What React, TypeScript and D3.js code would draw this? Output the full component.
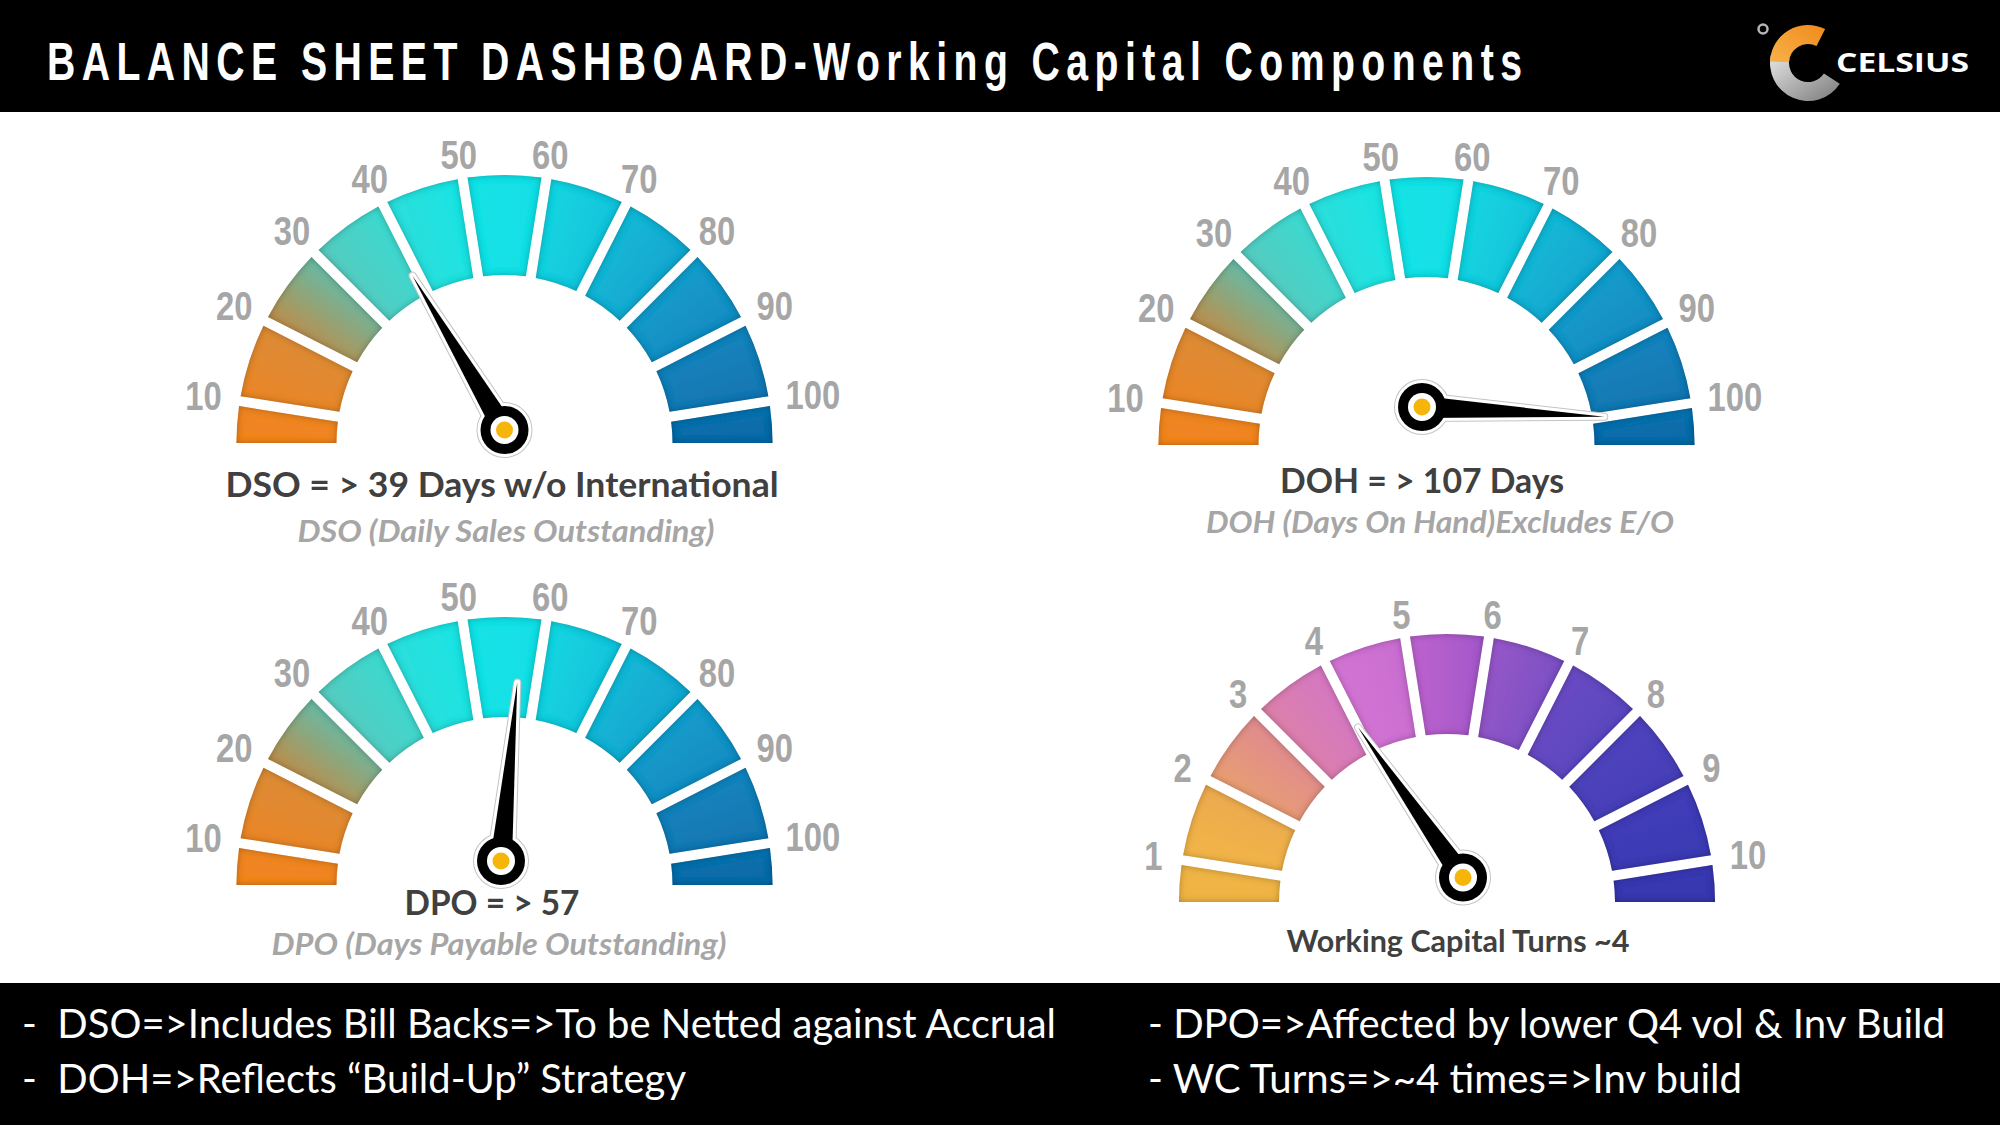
import React from 'react';
import * as d3 from 'd3';

const W = 2000;
const H = 1125;

// ---- data ----
const headerTitle = 'BALANCE SHEET DASHBOARD-Working Capital Components';
const brandName = 'CELSIUS';

const dayTicks = [10, 20, 30, 40, 50, 60, 70, 80, 90, 100];
const turnTicks = [1, 2, 3, 4, 5, 6, 7, 8, 9, 10];

const gaugeValues = [39, 107, 57, 4];
const gaugeTitles = [
    'DSO = > 39 Days w/o International',
    'DOH = > 107 Days',
    'DPO = > 57',
    'Working Capital Turns ~4'
];
const gaugeSubtitles = [
    'DSO (Daily Sales Outstanding)',
    'DOH (Days On Hand)Excludes E/O',
    'DPO (Days Payable Outstanding)',
    ''
];

// segment colours, start -> end along the arc (left to right)
const dayColors: [string, string][] = [
    ['#f2841e', '#ee8526'],
    ['#ea8628', '#dc8b36'],
    ['#b98f4e', '#6ab9a2'],
    ['#56cbbf', '#3cd9d0'],
    ['#2cdedb', '#1be4e3'],
    ['#14e3e6', '#13dfe6'],
    ['#17d5e1', '#18c3db'],
    ['#18b8d6', '#16a6cf'],
    ['#159ccb', '#148cc2'],
    ['#1483bd', '#1276b2'],
    ['#1270ae', '#106aa7']
];
const turnColors: [string, string][] = [
    ['#eeb443', '#efb445'],
    ['#f2b547', '#ecaa50'],
    ['#e89d72', '#e08b8f'],
    ['#dc80aa', '#d577c2'],
    ['#d274d2', '#c96dd2'],
    ['#bc62cf', '#a458c9'],
    ['#9656c8', '#7c50c4'],
    ['#6a4bc3', '#5946bf'],
    ['#4f43bc', '#4640b8'],
    ['#413cb7', '#3b3ab4'],
    ['#3a3ab3', '#3737ae']
];

const notesLeft = [
    '-  DSO=>Includes Bill Backs=>To be Netted against Accrual',
    '-  DOH=>Reflects \u201CBuild-Up\u201D Strategy'
];
const notesRight = [
    '- DPO=>Affected by lower Q4 vol & Inv Build',
    '- WC Turns=>~4 times=>Inv build'
];

// ---- layout ----
const R_OUT = 268;
const R_IN = 168;
const GAP = 10;

interface GaugeLayout {
    cx: number;
    cy: number;
    pivot: [number, number];
    needleR: number;
    titleY: number;
    titleW: number;
    titleSize: number;
    subY: number;
    subW: number;
    titleX: number;
    subX: number;
}

const layouts: GaugeLayout[] = [
    { cx: 504.5, cy: 443, pivot: [0, -13], needleR: 191, titleX: 502, titleY: 497, titleW: 553, titleSize: 34, subX: 506, subY: 542, subW: 417 },
    { cx: 1426.5, cy: 445, pivot: [-4.5, -38], needleR: 180, titleX: 1422, titleY: 493, titleW: 284, titleSize: 34, subX: 1440, subY: 533, subW: 468 },
    { cx: 504.5, cy: 885, pivot: [-3.5, -24], needleR: 203, titleX: 492, titleY: 915, titleW: 175, titleSize: 34, subX: 499, subY: 955, subW: 455 },
    { cx: 1447, cy: 902, pivot: [16, -24.5], needleR: 196, titleX: 1458, titleY: 952, titleW: 343, titleSize: 31, subX: 0, subY: 0, subW: 0 }
];

// narrow look: Arial-metric bold squeezed horizontally
const narrowFont = '"Liberation Sans", Arial, sans-serif';
const textFont = 'Lato, "Open Sans", sans-serif';
const LABEL_SQUEEZE = 0.8;
const HEADER_SQUEEZE = 0.74;

interface GaugeProps {
    idx: number;
    ticks: number[];
    colors: [string, string][];
    value: number;
    title: string;
    subtitle: string;
    layout: GaugeLayout;
}

const Gauge: React.FC<GaugeProps> = ({ idx, ticks, colors, value, title, subtitle, layout }) => {
    const step = ticks[1] - ticks[0];
    const lo = ticks[0] - step / 2;
    const hi = ticks[ticks.length - 1] + step / 2;
    const angle = d3.scaleLinear().domain([lo, hi]).range([-Math.PI / 2, Math.PI / 2]);
    const bounds = [lo, ...ticks, hi];

    const arc = d3.arc<any>()
        .innerRadius(R_IN)
        .outerRadius(R_OUT)
        .padRadius(R_OUT)
        .padAngle(GAP / R_OUT);

    const rm = (R_IN + R_OUT) / 2;
    const segs = d3.pairs(bounds).map(([a, b], i) => {
        let a0 = angle(a);
        let a1 = angle(b);
        const g0 = a0;
        const g1 = a1;
        if (i === 0) a0 -= 0.3;
        if (i === bounds.length - 2) a1 += 0.3;
        return {
            i,
            d: arc({ startAngle: a0, endAngle: a1 }) as string,
            x1: rm * Math.sin(g0), y1: -rm * Math.cos(g0),
            x2: rm * Math.sin(g1), y2: -rm * Math.cos(g1)
        };
    });

    // needle
    const v = Math.min(value, ticks[ticks.length - 1]);
    const th = angle(v);
    const [px, py] = layout.pivot;
    const tx = layout.needleR * Math.sin(th);
    const ty = -layout.needleR * Math.cos(th);
    const len = Math.hypot(tx - px, ty - py);
    const ux = (tx - px) / len;
    const uy = (ty - py) / len;
    const nx = -uy;
    const ny = ux;
    const bw = 11;
    const needlePath = `M${px + nx * bw},${py + ny * bw}L${tx},${ty}L${px - nx * bw},${py - ny * bw}Z`;

    const clipId = `clip-${idx}`;

    return (
        <g transform={`translate(${layout.cx},${layout.cy})`}>
            <defs>
                <clipPath id={clipId}>
                    <rect x={-R_OUT - 20} y={-R_OUT - 20} width={2 * R_OUT + 40} height={R_OUT + 20} />
                </clipPath>
                {segs.map(s => (
                    <linearGradient key={s.i} id={`grad-${idx}-${s.i}`} gradientUnits="userSpaceOnUse"
                        x1={s.x1} y1={s.y1} x2={s.x2} y2={s.y2}>
                        <stop offset="0" stopColor={colors[s.i][0]} />
                        <stop offset="1" stopColor={colors[s.i][1]} />
                    </linearGradient>
                ))}
            </defs>

            <g filter="url(#inset)">
                <g clipPath={`url(#${clipId})`}>
                    {segs.map(s => (
                        <path key={s.i} d={s.d} fill={`url(#grad-${idx}-${s.i})`} />
                    ))}
                </g>
            </g>

            {ticks.map(t => {
                const a = angle(t);
                const w = String(t).length * 15;
                const r = 290 + Math.abs(Math.sin(a)) * w / 2;
                return (
                    <text key={t}
                        transform={`translate(${r * Math.sin(a)},${-r * Math.cos(a)}) scale(${LABEL_SQUEEZE},1)`}
                        dy="0.36em"
                        textAnchor="middle"
                        fontFamily={narrowFont}
                        fontWeight="bold"
                        fontSize={41}
                        fill="#a6a6a6">
                        {t}
                    </text>
                );
            })}

            {/* needle: halo, white outline, black body */}
            <g>
                <path d={needlePath} fill="#c4c4c4" stroke="#c4c4c4" strokeWidth={8} strokeLinejoin="round" />
                <circle cx={px} cy={py} r={24} fill="#c4c4c4" stroke="#c4c4c4" strokeWidth={8} />
                <path d={needlePath} fill="#fff" stroke="#fff" strokeWidth={6} strokeLinejoin="round" />
                <circle cx={px} cy={py} r={24} fill="#fff" stroke="#fff" strokeWidth={6} />
                <path d={needlePath} fill="#000" />
                <circle cx={px} cy={py} r={24} fill="#000" />
                <circle cx={px} cy={py} r={14} fill="#fff" />
                <circle cx={px} cy={py} r={8.5} fill="#f5b50a" />
            </g>

            <text
                x={layout.titleX - layout.cx}
                y={layout.titleY - layout.cy}
                textAnchor="middle"
                fontFamily={textFont}
                fontWeight="bold"
                fontSize={layout.titleSize}
                fill="#404040"
                textLength={layout.titleW}
                lengthAdjust="spacingAndGlyphs">
                {title}
            </text>
            {subtitle && (
                <text
                    x={layout.subX - layout.cx}
                    y={layout.subY - layout.cy}
                    textAnchor="middle"
                    fontFamily={textFont}
                    fontWeight="bold"
                    fontStyle="italic"
                    fontSize={31}
                    fill="#a6a6a6"
                    textLength={layout.subW}
                    lengthAdjust="spacingAndGlyphs">
                    {subtitle}
                </text>
            )}
        </g>
    );
};

const Logo: React.FC = () => {
    const cx = 1808;
    const cy = 63;
    const grayArc = d3.arc<any>().innerRadius(19).outerRadius(38)({ startAngle: 2.15, endAngle: 4.95 }) as string;
    const orangeArc = d3.arc<any>().innerRadius(19).outerRadius(38)({ startAngle: 4.75, endAngle: 6.75 }) as string;
    return (
        <g>
            <defs>
                <linearGradient id="logo-gray" x1="0" y1="0" x2="1" y2="1">
                    <stop offset="0" stopColor="#e6e6e6" />
                    <stop offset="1" stopColor="#7a7a7a" />
                </linearGradient>
                <linearGradient id="logo-orange" x1="0" y1="1" x2="1" y2="0">
                    <stop offset="0" stopColor="#f7b24a" />
                    <stop offset="1" stopColor="#f08a1c" />
                </linearGradient>
            </defs>
            <g transform={`translate(${cx},${cy})`}>
                <path d={grayArc} fill="url(#logo-gray)" />
                <path d={orangeArc} fill="url(#logo-orange)" />
            </g>
            <circle cx={1763} cy={29} r={4.5} fill="none" stroke="#b5b5b5" strokeWidth={2.5} />
            <text x={1836} y={72} fontFamily='"Open Sans", Lato, sans-serif' fontWeight="bold" fontSize={26}
                fill="#fff" textLength={133} lengthAdjust="spacingAndGlyphs">
                {brandName}
            </text>
        </g>
    );
};

const App: React.FC = () => {
    const gaugeTicks = [dayTicks, dayTicks, dayTicks, turnTicks];
    const gaugeColors = [dayColors, dayColors, dayColors, turnColors];
    const noteWidthsLeft = [1034, 664];
    const noteWidthsRight = [797, 594];
    const noteY = [1038, 1093];

    return (
        <svg width={W} height={H} viewBox={`0 0 ${W} ${H}`}
            style={{ position: 'fixed', left: 0, top: 0, display: 'block', background: '#fff' }}>
            <defs>
                <filter id="inset" x="-10%" y="-10%" width="120%" height="120%">
                    <feFlood floodColor="#000" floodOpacity="0.55" result="flood" />
                    <feComposite in="flood" in2="SourceAlpha" operator="out" result="outside" />
                    <feGaussianBlur in="outside" stdDeviation="3.5" result="blur" />
                    <feComposite in="blur" in2="SourceAlpha" operator="in" result="inner" />
                    <feMerge>
                        <feMergeNode in="SourceGraphic" />
                        <feMergeNode in="inner" />
                    </feMerge>
                </filter>
            </defs>

            <rect x={0} y={0} width={W} height={H} fill="#fff" />

            {/* header */}
            <rect x={0} y={0} width={W} height={112} fill="#000" />
            <g transform={`translate(47,80) scale(${HEADER_SQUEEZE},1)`}>
                <text x={0} y={0} fontFamily={narrowFont} fontWeight="bold" fontSize={53} fill="#fff"
                    textLength={1475 / HEADER_SQUEEZE} lengthAdjust="spacing">
                    {headerTitle}
                </text>
            </g>
            <Logo />

            {layouts.map((l, i) => (
                <Gauge key={i}
                    idx={i}
                    ticks={gaugeTicks[i]}
                    colors={gaugeColors[i]}
                    value={gaugeValues[i]}
                    title={gaugeTitles[i]}
                    subtitle={gaugeSubtitles[i]}
                    layout={l} />
            ))}

            {/* footer notes */}
            <rect x={0} y={983} width={W} height={H - 983} fill="#000" />
            {notesLeft.map((n, i) => (
                <text key={'l' + i} x={22} y={noteY[i]} fontFamily={textFont} fontSize={40} fill="#fff"
                    style={{ whiteSpace: 'pre' }} textLength={noteWidthsLeft[i]} lengthAdjust="spacingAndGlyphs">
                    {n}
                </text>
            ))}
            {notesRight.map((n, i) => (
                <text key={'r' + i} x={1148} y={noteY[i]} fontFamily={textFont} fontSize={40} fill="#fff"
                    style={{ whiteSpace: 'pre' }} textLength={noteWidthsRight[i]} lengthAdjust="spacingAndGlyphs">
                    {n}
                </text>
            ))}
        </svg>
    );
};

export default App;
